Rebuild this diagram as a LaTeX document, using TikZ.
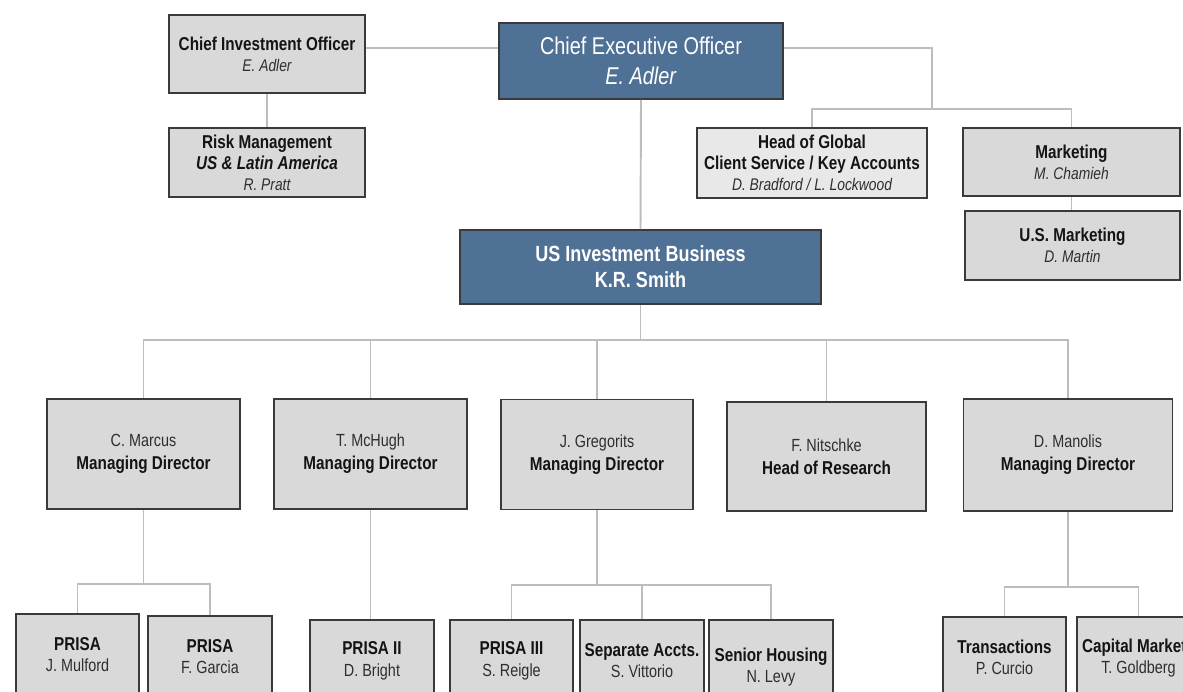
\documentclass[tikz,border=0pt]{standalone}
\usepackage{fontspec}
\setmainfont{Liberation Sans}[FakeStretch=0.82]
\usepackage{xcolor}
\usepackage{tikz}
\definecolor{boss}{HTML}{4F7196}
\definecolor{cell}{HTML}{D9D9D9}
\definecolor{cellhi}{HTML}{E8E8E8}
\definecolor{edge}{HTML}{3A3A3A}
\definecolor{wire}{HTML}{BDBDBD}
\definecolor{ink}{HTML}{141414}
\definecolor{inkm}{HTML}{2E2E2E}
\tikzset{
  box/.style={draw=edge, line width=0.9pt, fill=cell, align=center, inner sep=1pt, text=ink,
    font=\fontsize{10.6}{12}\selectfont},
  chief/.style={box, fill=boss, text=white},
  lite/.style={box, fill=cellhi},
  head/.style={box, minimum width=3.86cm, minimum height=2.2cm, font=\fontsize{10.6}{13}\selectfont},
  leaf/.style={box, anchor=north, minimum width=2.47cm, minimum height=1.64cm},
  conn/.style={draw=wire, line width=1.1pt},
}
\newcommand\pname[1]{{\fontsize{9.6}{12}\selectfont\itshape\color{inkm}#1}}
\newcommand\plainname[1]{{\fontsize{10}{12}\selectfont\color{inkm}#1}}

\begin{document}
\begin{tikzpicture}[x=0.02cm, y=-0.02cm]
  \useasboundingbox (0,0) rectangle (1183,692);
  \clip (0,0) rectangle (1183,692);
  \fill[white] (0,0) rectangle (1183,692);
  % executive level
  \node[chief, minimum width=5.68cm, minimum height=1.52cm, font=\fontsize{13.8}{17}\selectfont]
    (ceo) at (641,61) {Chief Executive Officer\\\textit{E. Adler}};
  \node[box, minimum width=3.92cm, minimum height=1.56cm] (cio) at (267,54)
    {\textbf{Chief Investment Officer}\\\pname{E. Adler}};
  \node[box, minimum width=3.92cm, minimum height=1.38cm] (risk) at (267,162.5)
    {\textbf{Risk Management}\\\textbf{\textit{US \& Latin America}}\\\pname{R. Pratt}};
  \node[lite, minimum width=4.6cm, minimum height=1.4cm] (global) at (812,163)
    {\textbf{Head of Global}\\\textbf{Client Service / Key Accounts}\\\pname{D. Bradford / L. Lockwood}};
  \node[box, minimum width=4.34cm, minimum height=1.36cm] (mkt) at (1071.5,162)
    {\textbf{Marketing}\\\pname{M. Chamieh}};
  \node[box, minimum width=4.3cm, minimum height=1.38cm] (usmkt) at (1072.5,245.5)
    {\textbf{U.S. Marketing}\\\pname{D. Martin}};
  \node[chief, minimum width=7.22cm, minimum height=1.48cm, font=\bfseries\fontsize{12.5}{14.8}\selectfont]
    (usib) at (640.5,267) {US Investment Business\\K.R. Smith};

  % directors
  \node[head] (marcus) at (143.5,454) {\plainname{C. Marcus}\\\textbf{Managing Director}};
  \node[head] (mchugh) at (370.5,454) {\plainname{T. McHugh}\\\textbf{Managing Director}};
  \node[head, minimum width=3.84cm] (gregorits) at (597,454.5) {\plainname{J. Gregorits}\\\textbf{Managing Director}};
  \node[head, minimum width=3.98cm, minimum height=2.18cm] (nitschke) at (826.5,456.5)
    {\plainname{F. Nitschke}\\\textbf{Head of Research}};
  \node[head, minimum width=4.18cm, minimum height=2.24cm] (manolis) at (1068,455)
    {\plainname{D. Manolis}\\\textbf{Managing Director}};

  % funds and teams
  \node[leaf] (mulford) at (77.5,613) {\textbf{PRISA}\\\plainname{J. Mulford}};
  \node[leaf] (garcia) at (210,615) {\textbf{PRISA}\\\plainname{F. Garcia}};
  \node[leaf] (bright) at (372,619) {\textbf{PRISA II}\\\plainname{D. Bright}};
  \node[leaf] (reigle) at (511.5,619) {\textbf{PRISA III}\\\plainname{S. Reigle}};
  \node[leaf] (vittorio) at (642,619) {\textbf{Separate Accts.}\\\plainname{S. Vittorio}};
  \node[leaf, minimum height=1.88cm] (levy) at (771,619) {\textbf{Senior Housing}\\\plainname{N. Levy}};
  \node[leaf] (curcio) at (1004.5,616) {\textbf{Transactions}\\\plainname{P. Curcio}};
  \node[leaf] (goldberg) at (1138.5,616) {\textbf{Capital Markets}\\\plainname{T. Goldberg}};

  % reporting lines
  \path ([yshift=0.12cm]cio.east) coordinate (cioe);
  \draw[conn] (cioe) -- (cioe -| ceo.west);
  \draw[conn] (cio.south) -- (risk.north);
  \draw[conn] (ceo.south) -- (usib.north);
  \path ([yshift=0.26cm]ceo.east) coordinate (ceoe);
  \coordinate (hub) at (932,109);
  \draw[conn] (ceoe) -| (hub);
  \draw[conn] (global.north) |- (hub) -| (mkt.north);
  \draw[conn] (mkt.south) -- (mkt.south |- usmkt.north);

  \coordinate (bus) at (640.5,340);
  \draw[conn] (usib.south) -- (bus);
  \foreach \n in {marcus,mchugh,gregorits,nitschke,manolis}
    \draw[conn] (bus) -| (\n.north);

  \draw[conn] (marcus.south) -- ++(0,74) coordinate (mbus);
  \foreach \n in {mulford,garcia}
    \draw[conn] (mbus) -| (\n.north);
  \draw[conn] (mchugh.south) -- (mchugh.south |- bright.north);
  \draw[conn] (gregorits.south) -- ++(0,75) coordinate (gbus);
  \foreach \n in {reigle,vittorio,levy}
    \draw[conn] (gbus) -| (\n.north);
  \draw[conn] (manolis.south) -- ++(0,75) coordinate (dbus);
  \foreach \n in {curcio,goldberg}
    \draw[conn] (dbus) -| (\n.north);
\end{tikzpicture}
\end{document}
